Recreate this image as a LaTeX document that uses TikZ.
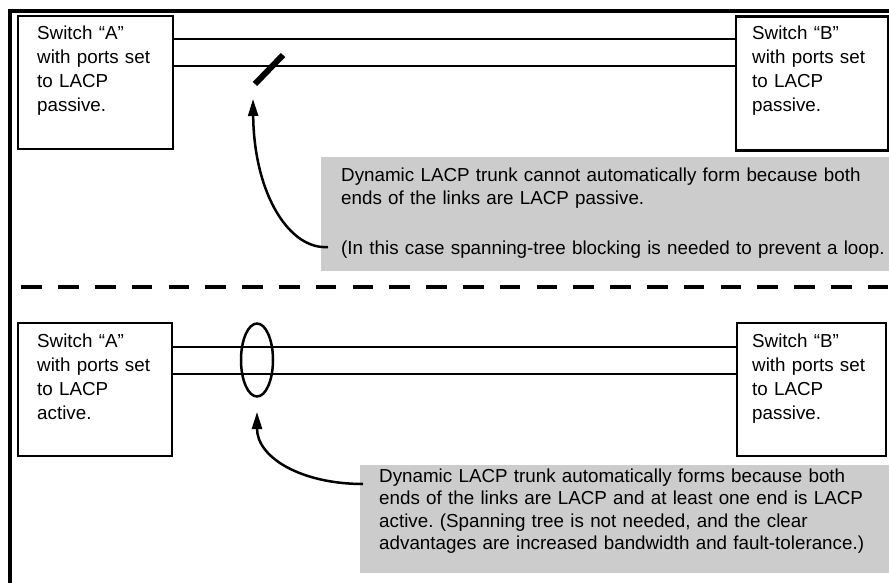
\documentclass[tikz,border=0pt]{standalone}
\usepackage{fontspec}
\setmainfont{Liberation Sans}
\usetikzlibrary{arrows.meta,shapes.geometric}
\definecolor{notegray}{RGB}{204,204,204}
\frenchspacing
\tikzset{
  frameline/.style={line width=3.3pt},
  swbox/.style={draw, line width=2.4pt, anchor=north west, inner sep=0pt},
  swtext/.style={anchor=base west, inner sep=0pt, align=left, text width=140pt,
    font=\fontsize{18.8pt}{24pt}\selectfont},
  notebox/.style={fill=notegray, anchor=north west, inner sep=0pt},
  notetext/.style={anchor=base west, inner sep=0pt, align=left, text width=600pt,
    font=\fontsize{18.8pt}{22.5pt}\selectfont},
  link/.style={line width=2pt},
  pointer/.style={line width=2.5pt, -{Triangle[length=17pt,width=10pt]}},
}
\begin{document}
\begin{tikzpicture}[x=1pt,y=-1pt]
\useasboundingbox (0,0) rectangle (889,583);
% outer frame
\coordinate (fbl) at (10,583);
\coordinate (ftl) at (10,11);
\coordinate (ftr) at (889,11);
\draw[frameline] (fbl) -- (ftl) -- (ftr);
% divider
\coordinate (dl) at (10,287);
\coordinate (dr) at (889,287);
\draw[frameline, dash pattern=on 20.5pt off 16.3pt, dash phase=-11.4pt] (dl) -- (dr);

% ---------- upper scenario ----------
\node[swbox, minimum width=155pt, minimum height=133pt] (boxA1) at (17,15) {};
\node[swbox, minimum width=152pt, minimum height=134pt] (boxB1) at (735,15.5) {};
\node[swtext] (txtA1) at (37,40) {Switch “A”\\with ports set\\to LACP\\passive.};
\node[swtext] (txtB1) at (752,40) {Switch “B”\\with ports set\\to LACP\\passive.};
\coordinate (u1) at (0,39);
\coordinate (u2) at (0,66);
\draw[link] (boxA1.east |- u1) -- (boxB1.west |- u1);
\draw[link] (boxA1.east |- u2) -- (boxB1.west |- u2);
% blocked mark
\coordinate (blk1) at (255,84);
\coordinate (blk2) at (283,55);
\draw[line width=6pt] (blk1) -- (blk2);

\node[notebox, minimum width=568pt, minimum height=114pt] (note1) at (321,157) {};
\node[notetext] (ntxt1) at (341,182) {Dynamic LACP trunk cannot automatically form because both\\ends of the links are LACP passive.\\[28pt](In this case spanning-tree blocking is needed to prevent a loop.};
\coordinate (tip1) at (253,99);
\coordinate (from1) at (328,247);
\draw[pointer] (from1) .. controls (290,250) and (254,195) .. (tip1);

% ---------- lower scenario ----------
\node[swbox, minimum width=154pt, minimum height=133pt] (boxA2) at (16.5,322) {};
\node[swbox, minimum width=149pt, minimum height=133pt] (boxB2) at (736,322) {};
\node[swtext] (txtA2) at (37,347) {Switch “A”\\with ports set\\to LACP\\active.};
\node[swtext] (txtB2) at (752,347) {Switch “B”\\with ports set\\to LACP\\passive.};
\coordinate (v1) at (0,347);
\coordinate (v2) at (0,374);
\draw[link] (boxA2.east |- v1) -- (boxB2.west |- v1);
\draw[link] (boxA2.east |- v2) -- (boxB2.west |- v2);
% trunk ellipse
\node[draw, line width=2.5pt, ellipse, minimum width=32pt, minimum height=73pt, inner sep=0pt] (trunk) at (257,360) {};

\node[notebox, minimum width=529pt, minimum height=108pt] (note2) at (360,465) {};
\node[notetext] (ntxt2) at (379,482) {Dynamic LACP trunk automatically forms because both\\ends of the links are LACP and at least one end is LACP\\active. (Spanning tree is not needed, and the clear\\advantages are increased bandwidth and fault-tolerance.)};
\coordinate (tip2) at (257,412);
\coordinate (from2) at (363,484);
\draw[pointer] (from2) .. controls (302,484) and (257,458) .. (tip2);
\end{tikzpicture}
\end{document}
